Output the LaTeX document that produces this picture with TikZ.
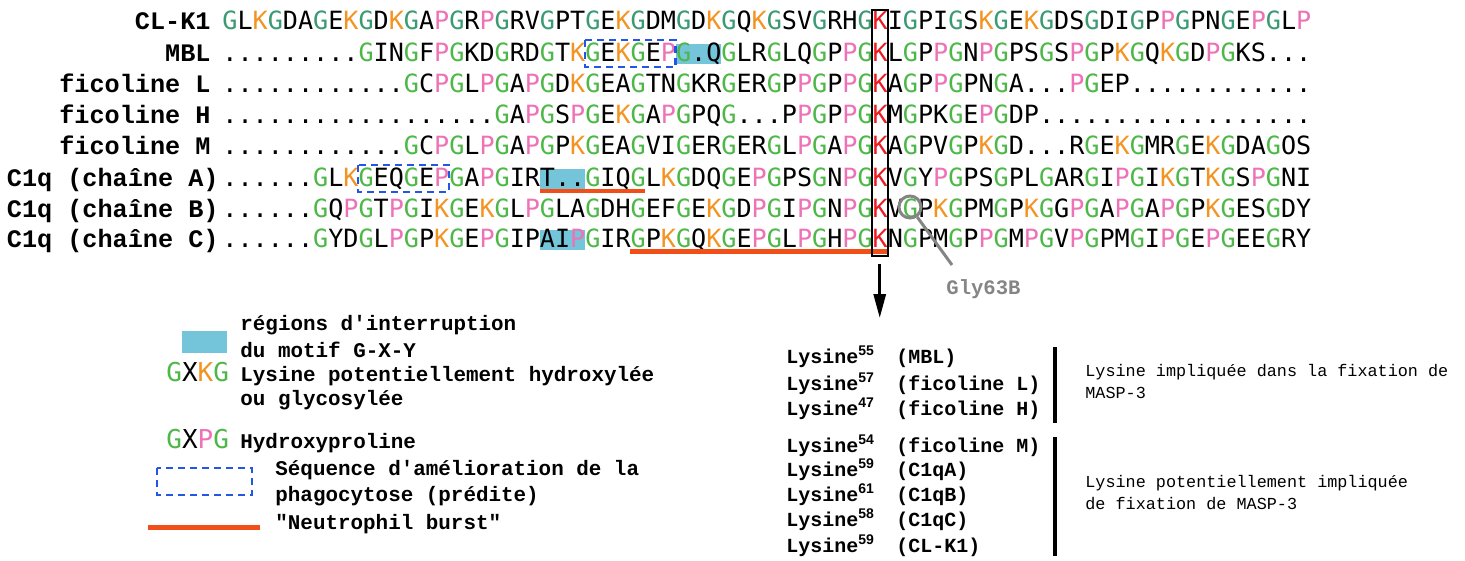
\documentclass[tikz,border=0pt]{standalone}
\usepackage{fontspec}
\usepackage{xcolor}
\usepackage{tikz}
\usetikzlibrary{arrows.meta,positioning}
\newfontfamily\seqfont{DejaVu Sans Mono}
\newfontfamily\courfont{Liberation Mono}
\newfontfamily\supfont{Liberation Sans}
\definecolor{sgreen}{HTML}{4DB848}
\definecolor{steal}{HTML}{3A9A72}
\definecolor{sorange}{HTML}{F39422}
\definecolor{spink}{HTML}{EE72B6}
\definecolor{sred}{HTML}{EC1C24}
\definecolor{scyan}{HTML}{74C5DA}
\definecolor{sblue}{HTML}{2456E6}
\definecolor{sburst}{HTML}{F24E18}
\definecolor{sgrey}{HTML}{858585}

% residues: G green, k lysine, p hydroxyproline, r aligned lysine, g plain G
\def\gcol{sgreen}
\def\seqrow#1{\seqstep#1\relax}
\def\seqstep#1{\ifx\relax#1\else\seqres#1\expandafter\seqstep\fi}
\def\seqres#1{%
  \ifx G#1\textcolor{\gcol}{G}%
  \else\ifx k#1\textcolor{sorange}{K}%
  \else\ifx p#1\textcolor{spink}{P}%
  \else\ifx r#1\textcolor{sred}{K}%
  \else\ifx g#1G%
  \else#1\fi\fi\fi\fi\fi}
% x of alignment column n
\newcommand\cx[1]{222+15.12*#1}
\newcommand\lysn[2]{\makebox[55pt][l]{Lysine\textsuperscript{\supfont #1}}#2}

\begin{document}
\begin{tikzpicture}[x=0.5pt,y=-0.5pt,
  every node/.style={inner sep=0pt},
  seq/.style={anchor=base west,font=\seqfont\fontsize{12.56}{15}\selectfont},
  lbl/.style={anchor=base east,font=\courfont\bfseries\fontsize{12.6}{15}\selectfont},
  leg/.style={anchor=base west,font=\courfont\bfseries\fontsize{10.45}{12}\selectfont},
  lys/.style={anchor=base west,font=\courfont\bfseries\fontsize{10}{12}\selectfont},
  note/.style={anchor=base west,font=\courfont\fontsize{8.4}{10}\selectfont},
  hilite/.style={fill=scyan},
  phago/.style={draw=sblue,line width=1.2pt,dash pattern=on 3.5pt off 2.5pt},
  burst/.style={draw=sburst,line width=2pt}]
  \useasboundingbox (0,0) rectangle (1465,561);

  % interruptions of the G-X-Y motif
  \fill[hilite] ({\cx{30}},44) rectangle ({\cx{33}},64);
  \fill[hilite] ({\cx{21}},169) rectangle ({\cx{24}},189);
  \fill[hilite] ({\cx{21}},230) rectangle ({\cx{24}},250);

  \node[lbl] (lclk) at (211,30) {CL-K1};
  \node[lbl] (lmbl) at (211,62) {MBL};
  \node[lbl] (lficl) at (211,93) {ficoline L};
  \node[lbl] (lfich) at (211,124) {ficoline H};
  \node[lbl] (lficm) at (211,155) {ficoline M};
  \node[lbl] (lcqa) at (219,187) {C1q (chaîne A)};
  \node[lbl] (lcqb) at (219,218) {C1q (chaîne B)};
  \node[lbl] (lcqc) at (219,248) {C1q (chaîne C)};

  \node[seq] (sclk) at (222,30) {\def\gcol{steal}\seqrow{GLkGDAGEkGDkGApGRpGRVGPTGEkGDMGDkGQkGSVGRHGrIGPIGSkGEkGDSGDIGPpGPNGEpGLp}};
  \node[seq] (smbl) at (222,62) {\seqrow{.........GINGFpGKDGRDGTkGEkGEpG.QGLRGLQGPpGrLGPpGNpGPSGSpGPkGQkGDpGKS...}};
  \node[seq] (sficl) at (222,93) {\seqrow{............GCpGLpGApGDkGEAGTNGKRGERGPpGPpGrAGPpGPNGA...pGEP............}};
  \node[seq] (sfich) at (222,124) {\seqrow{..................GApGSpGEkGApGPQG...PpGPpGrMGPKGEpGDP..................}};
  \node[seq] (sficm) at (222,155) {\seqrow{............GCpGLpGApGPkGEAGVIGERGERGLpGApGrAGPVGPkGD...RGEkGMRGEkGDAGOS}};
  \node[seq] (scqa) at (222,187) {\seqrow{......GLkGEQGEpGApGIRT..GIQGLkGDQGEpGPSGNpGrVGYpGPSGPLGARGIpGIkGTkGSpGNI}};
  \node[seq] (scqb) at (222,218) {\seqrow{......GQpGTpGIkGEkGLpGLAGDHGEFGEkGDpGIpGNpGrVGPkGPMGPkGgpGApGApGPkGESGDY}};
  \node[seq] (scqc) at (222,248) {\seqrow{......GYDGLpGPkGEpGIPAIpGIRGPkGQkGEpGLpGHpGrNGPMGPpGMpGVpGPMGIpGEpGEEGRY}};

  \draw[phago] ({\cx{24}},40) rectangle ({\cx{30}},67);
  \draw[phago] ({\cx{9}},165) rectangle ({\cx{15}},192);
  \draw[burst] ({\cx{21}},191) -- ({\cx{28}},191);
  \draw[burst,line width=2.5pt] ({\cx{27}},251) -- (888,251);

  % aligned lysine
  \node[draw,line width=1pt,minimum width=8pt,minimum height=123pt] (kbox) at ({\cx{43.5}},133) {};
  \coordinate (kdown) at ({\cx{43.5}},318);
  \draw[line width=1.5pt,-{Triangle[length=12pt,width=6pt]}] ([yshift=-3.5pt]kbox.south) -- (kdown);

  \node[circle,draw=sgrey,line width=1.5pt,minimum size=11pt] (gly) at ({\cx{45.5}},207) {};
  \coordinate (glytail) at (952,265);
  \draw[sgrey,line width=1.5pt] (gly) -- (glytail);
  \node[anchor=base west,font=\courfont\bfseries\fontsize{10.3}{12}\selectfont,text=sgrey] (glylab) at (946,294) {Gly63B};

  % legend
  \fill[hilite] (182,331) rectangle (227,353);
  \node[leg] (tint1) at (240,330) {régions d\textquotesingle interruption};
  \node[leg] (tint2) at (240,357) {du motif G-X-Y};
  \node[seq,font=\seqfont\fontsize{13}{15}\selectfont] (gxkg) at (166,381) {\seqrow{GXkG}};
  \node[leg] (thyd1) at (240,381) {Lysine potentiellement hydroxylée};
  \node[leg] (thyd2) at (240,405) {ou glycosylée};
  \node[seq,font=\seqfont\fontsize{13}{15}\selectfont] (gxpg) at (166,448) {\seqrow{GXpG}};
  \node[leg] (thyp) at (240,448) {Hydroxyproline};
  \draw[phago] (157,468) rectangle (252,495);
  \node[leg] (tpha1) at (275,475) {Séquence d\textquotesingle amélioration de la};
  \node[leg] (tpha2) at (275,501) {phagocytose (prédite)};
  \draw[burst,line width=2.5pt] (148,527) -- (260,527);
  \node[leg] (tneu) at (275,529) {"Neutrophil burst"};

  \node[lys] (k55) at (786,363) {\lysn{55}{(MBL)}};
  \node[lys] (k57) at (786,390) {\lysn{57}{(ficoline L)}};
  \node[lys] (k47) at (786,415) {\lysn{47}{(ficoline H)}};
  \node[lys] (k54) at (786,452) {\lysn{54}{(ficoline M)}};
  \node[lys] (k59a) at (786,476) {\lysn{59}{(C1qA)}};
  \node[lys] (k61) at (786,501) {\lysn{61}{(C1qB)}};
  \node[lys] (k58) at (786,526) {\lysn{58}{(C1qC)}};
  \node[lys] (k59k) at (786,552) {\lysn{59}{(CL-K1)}};
  \draw[line width=2pt] (1055,347) -- (1055,423);
  \draw[line width=2pt] (1055,437) -- (1055,556);
  \node[note] (tmasp1) at (1085,376) {Lysine impliquée dans la fixation de};
  \node[note] (tmasp2) at (1085,398) {MASP-3};
  \node[note] (tpot1) at (1085,487) {Lysine potentiellement impliquée};
  \node[note] (tpot2) at (1085,509) {de fixation de MASP-3};
\end{tikzpicture}
\end{document}
